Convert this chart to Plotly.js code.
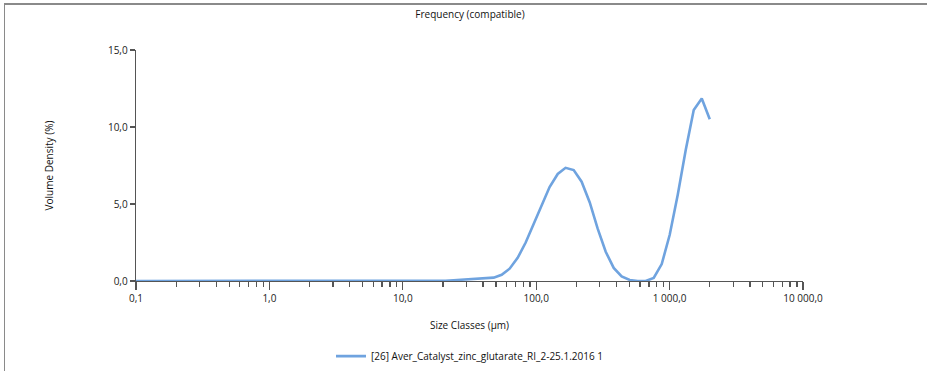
<!DOCTYPE html>
<html>
<head>
<meta charset="utf-8">
<script src="https://cdn.plot.ly/plotly-3.0.1.min.js"></script>
<style>
  html, body { margin: 0; padding: 0; background: #fff; }
  #wrap { position: relative; width: 927px; height: 371px; overflow: hidden; }
  #chart { width: 927px; height: 371px; }
  #frame { position: absolute; left: 4px; top: 3px; width: 940px; height: 400px;
           border-left: 1.5px solid #8a8a8a; border-top: 2px solid #8a8a8a; pointer-events: none; }
</style>
</head>
<body>
<div id="wrap">
  <div id="chart"></div>
  <div id="frame"></div>
</div>
<script>
// Size classes (µm)
const sizeClasses = [0.1, 0.2, 0.5, 1.0, 2.0, 5.0, 10.0, 15.9, 18.2, 20.9, 24.0, 27.6, 31.7, 36.4, 41.8, 48.0, 55.1,
  63.2, 72.6, 83.4, 95.7, 110, 126, 145, 166, 191, 219, 252, 289, 332, 381, 437, 502, 577, 662, 760, 873,
  1002, 1151, 1321, 1517, 1742, 2000];
// Volume density (%)
const volumeDensity = [0, 0, 0, 0, 0, 0, 0, 0, 0.0, 0.02, 0.05, 0.08, 0.11, 0.14, 0.17, 0.22, 0.4,
  0.8, 1.5, 2.5, 3.7, 4.95, 6.1, 6.95, 7.35, 7.2, 6.45, 5.1, 3.4, 1.9, 0.85, 0.3, 0.07, 0.0, 0.0, 0.2, 1.1,
  3.0, 5.6, 8.5, 11.1, 11.85, 10.5];
const seriesName = "[26] Aver_Catalyst_zinc_glutarate_RI_2-25.1.2016 1";
const xTickVals = [0.1, 1, 10, 100, 1000, 10000];
const yTickVals = [0, 5, 10, 15];
const chartTitle = "Frequency (compatible)";
const xTitle = "Size Classes (µm)";
const yTitle = "Volume Density (%)";

const minorVals = [];
for (let d = 0.1; d < 5000; d *= 10) {
  for (let k = 2; k <= 9; k++) minorVals.push(+(d * k).toPrecision(3));
}

const font = { family: "Open Sans, DejaVu Sans, sans-serif", size: 10, color: "#222" };

Plotly.newPlot("chart", [{
  x: sizeClasses, y: volumeDensity, type: "scatter", mode: "lines", name: seriesName,
  line: { color: "#6fa3df", width: 2.6, shape: "linear" }
}], {
  width: 927, height: 371,
  margin: { l: 136, r: 124, t: 50, b: 90, autoexpand: false },
  paper_bgcolor: "#fff", plot_bgcolor: "#fff",
  separators: ", ",
  font: font,
  showlegend: true,
  title: { text: chartTitle, x: 0.507, xanchor: "center", y: 0.962, yanchor: "middle", font: { family: font.family, size: 10, color: "#111" } },
  xaxis: {
    type: "log", range: [-1, 4], tickmode: "array", tickvals: xTickVals, tickformat: ",.1f",
    showgrid: false, zeroline: false, showline: true, linecolor: "#555", linewidth: 1.3,
    ticks: "outside", ticklen: 8, tickwidth: 1.3, tickcolor: "#555",
    minor: { tickmode: "array", tickvals: minorVals, ticks: "outside", ticklen: 5, tickwidth: 1.3, tickcolor: "#555", showgrid: false },
    tickfont: { family: font.family, size: 10, color: "#222" },
    title: { text: xTitle, standoff: 17, font: { family: font.family, size: 10, color: "#111" } },
    automargin: false, fixedrange: true
  },
  yaxis: {
    range: [0, 15], tickmode: "array", tickvals: yTickVals, tickformat: ".1f",
    showgrid: false, zeroline: false, showline: true, linecolor: "#555", linewidth: 1.3,
    ticks: "outside", ticklen: 5, tickwidth: 1.3, tickcolor: "#555",
    tickfont: { family: font.family, size: 10, color: "#222" },
    title: { text: yTitle, standoff: 52, font: { family: font.family, size: 10, color: "#111" } },
    automargin: false, fixedrange: true
  },
  legend: {
    orientation: "h", x: 0.5, xanchor: "center", y: -0.325, yanchor: "middle",
    font: { family: font.family, size: 10, color: "#111" }, itemwidth: 30, bgcolor: "rgba(0,0,0,0)"
  }
}, { displayModeBar: false, staticPlot: true });
</script>
</body>
</html>
